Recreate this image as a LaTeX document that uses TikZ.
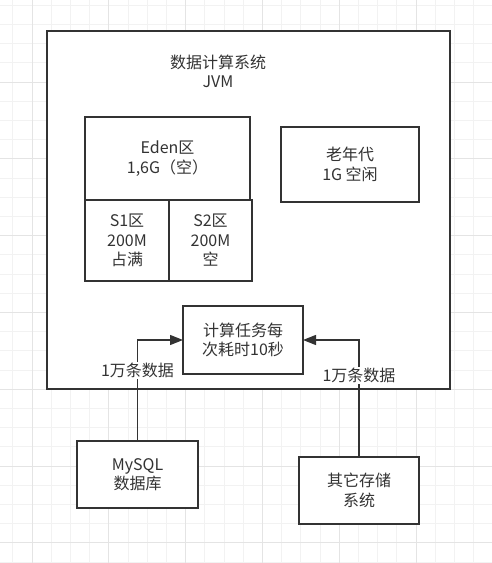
\documentclass[tikz,border=0pt]{standalone}
\usepackage{fontspec}
\setmainfont{Noto Sans CJK SC}
\usetikzlibrary{positioning}
\usetikzlibrary{arrows.meta}
\definecolor{ink}{HTML}{333333}
\definecolor{gridminor}{HTML}{F2F2F2}
\definecolor{gridmajor}{HTML}{E4E4E4}
\tikzset{
boxline/.style={line width=1.3pt},
box/.style 2 args={draw=ink, boxline, fill=white, text=ink, align=center,
	minimum width=#1, minimum height=#2, inner sep=0pt, outer sep=0pt},
flow/.style={draw=ink, boxline, -{Triangle[length=13pt,width=10pt]}},
flowlabel/.style={fill=white, text=ink, inner sep=1pt},
}
\begin{document}
\begin{tikzpicture}[x=1pt, y=-1pt, font=\fontsize{16}{19.5}\selectfont]
\useasboundingbox (0,0) rectangle (492,563);
%Background grid
\foreach \i in {0,...,25} {
	\draw[gridminor, line width=0.8pt] (12.8+19.2*\i,0) -- (12.8+19.2*\i,563);
}
\foreach \i in {0,...,29} {
	\draw[gridminor, line width=0.8pt] (0,5.2+19.2*\i) -- (492,5.2+19.2*\i);
}
\foreach \i in {0,...,6} {
	\draw[gridmajor, line width=0.9pt] (32+76.8*\i,0) -- (32+76.8*\i,563);
	\draw[gridmajor, line width=0.9pt] (0,82+76.8*\i) -- (492,82+76.8*\i);
}

%Place the nodes
\node[box={403pt}{358pt}] (jvm) at (248.5,210) {};
\node[text=ink, align=center] (title) at (218,71.5) {数据计算系统\\JVM};

\node[box={165pt}{83pt}] (eden) at (167.5,158.5) {Eden区\\1,6G（空）};
\node[box={84pt}{81pt}, anchor=north west] (s1) at (eden.south west) {S1区\\200M\\占满};
\node[box={83pt}{81pt}, right=0pt of s1] (s2) {S2区\\200M\\空};
\node[box={138pt}{75pt}] (old) at (350,164.5) {老年代\\1G 空闲};

\node[box={120pt}{68pt}] (task) at (243,340) {计算任务每\\次耗时10秒};

\node[box={121pt}{67pt}] (mysql) at (137.5,474.5) {MySQL\\数据库};
\node[box={120pt}{67pt}] (other) at (359,490.5) {其它存储\\系统};

%Data flows
\draw[flow] (mysql.north) |- node[flowlabel, pos=0.35] {1万条数据} (task.west);
\draw[flow] (other.north) |- node[flowlabel, pos=0.35] {1万条数据} (task.east);

\end{tikzpicture}
\end{document}
